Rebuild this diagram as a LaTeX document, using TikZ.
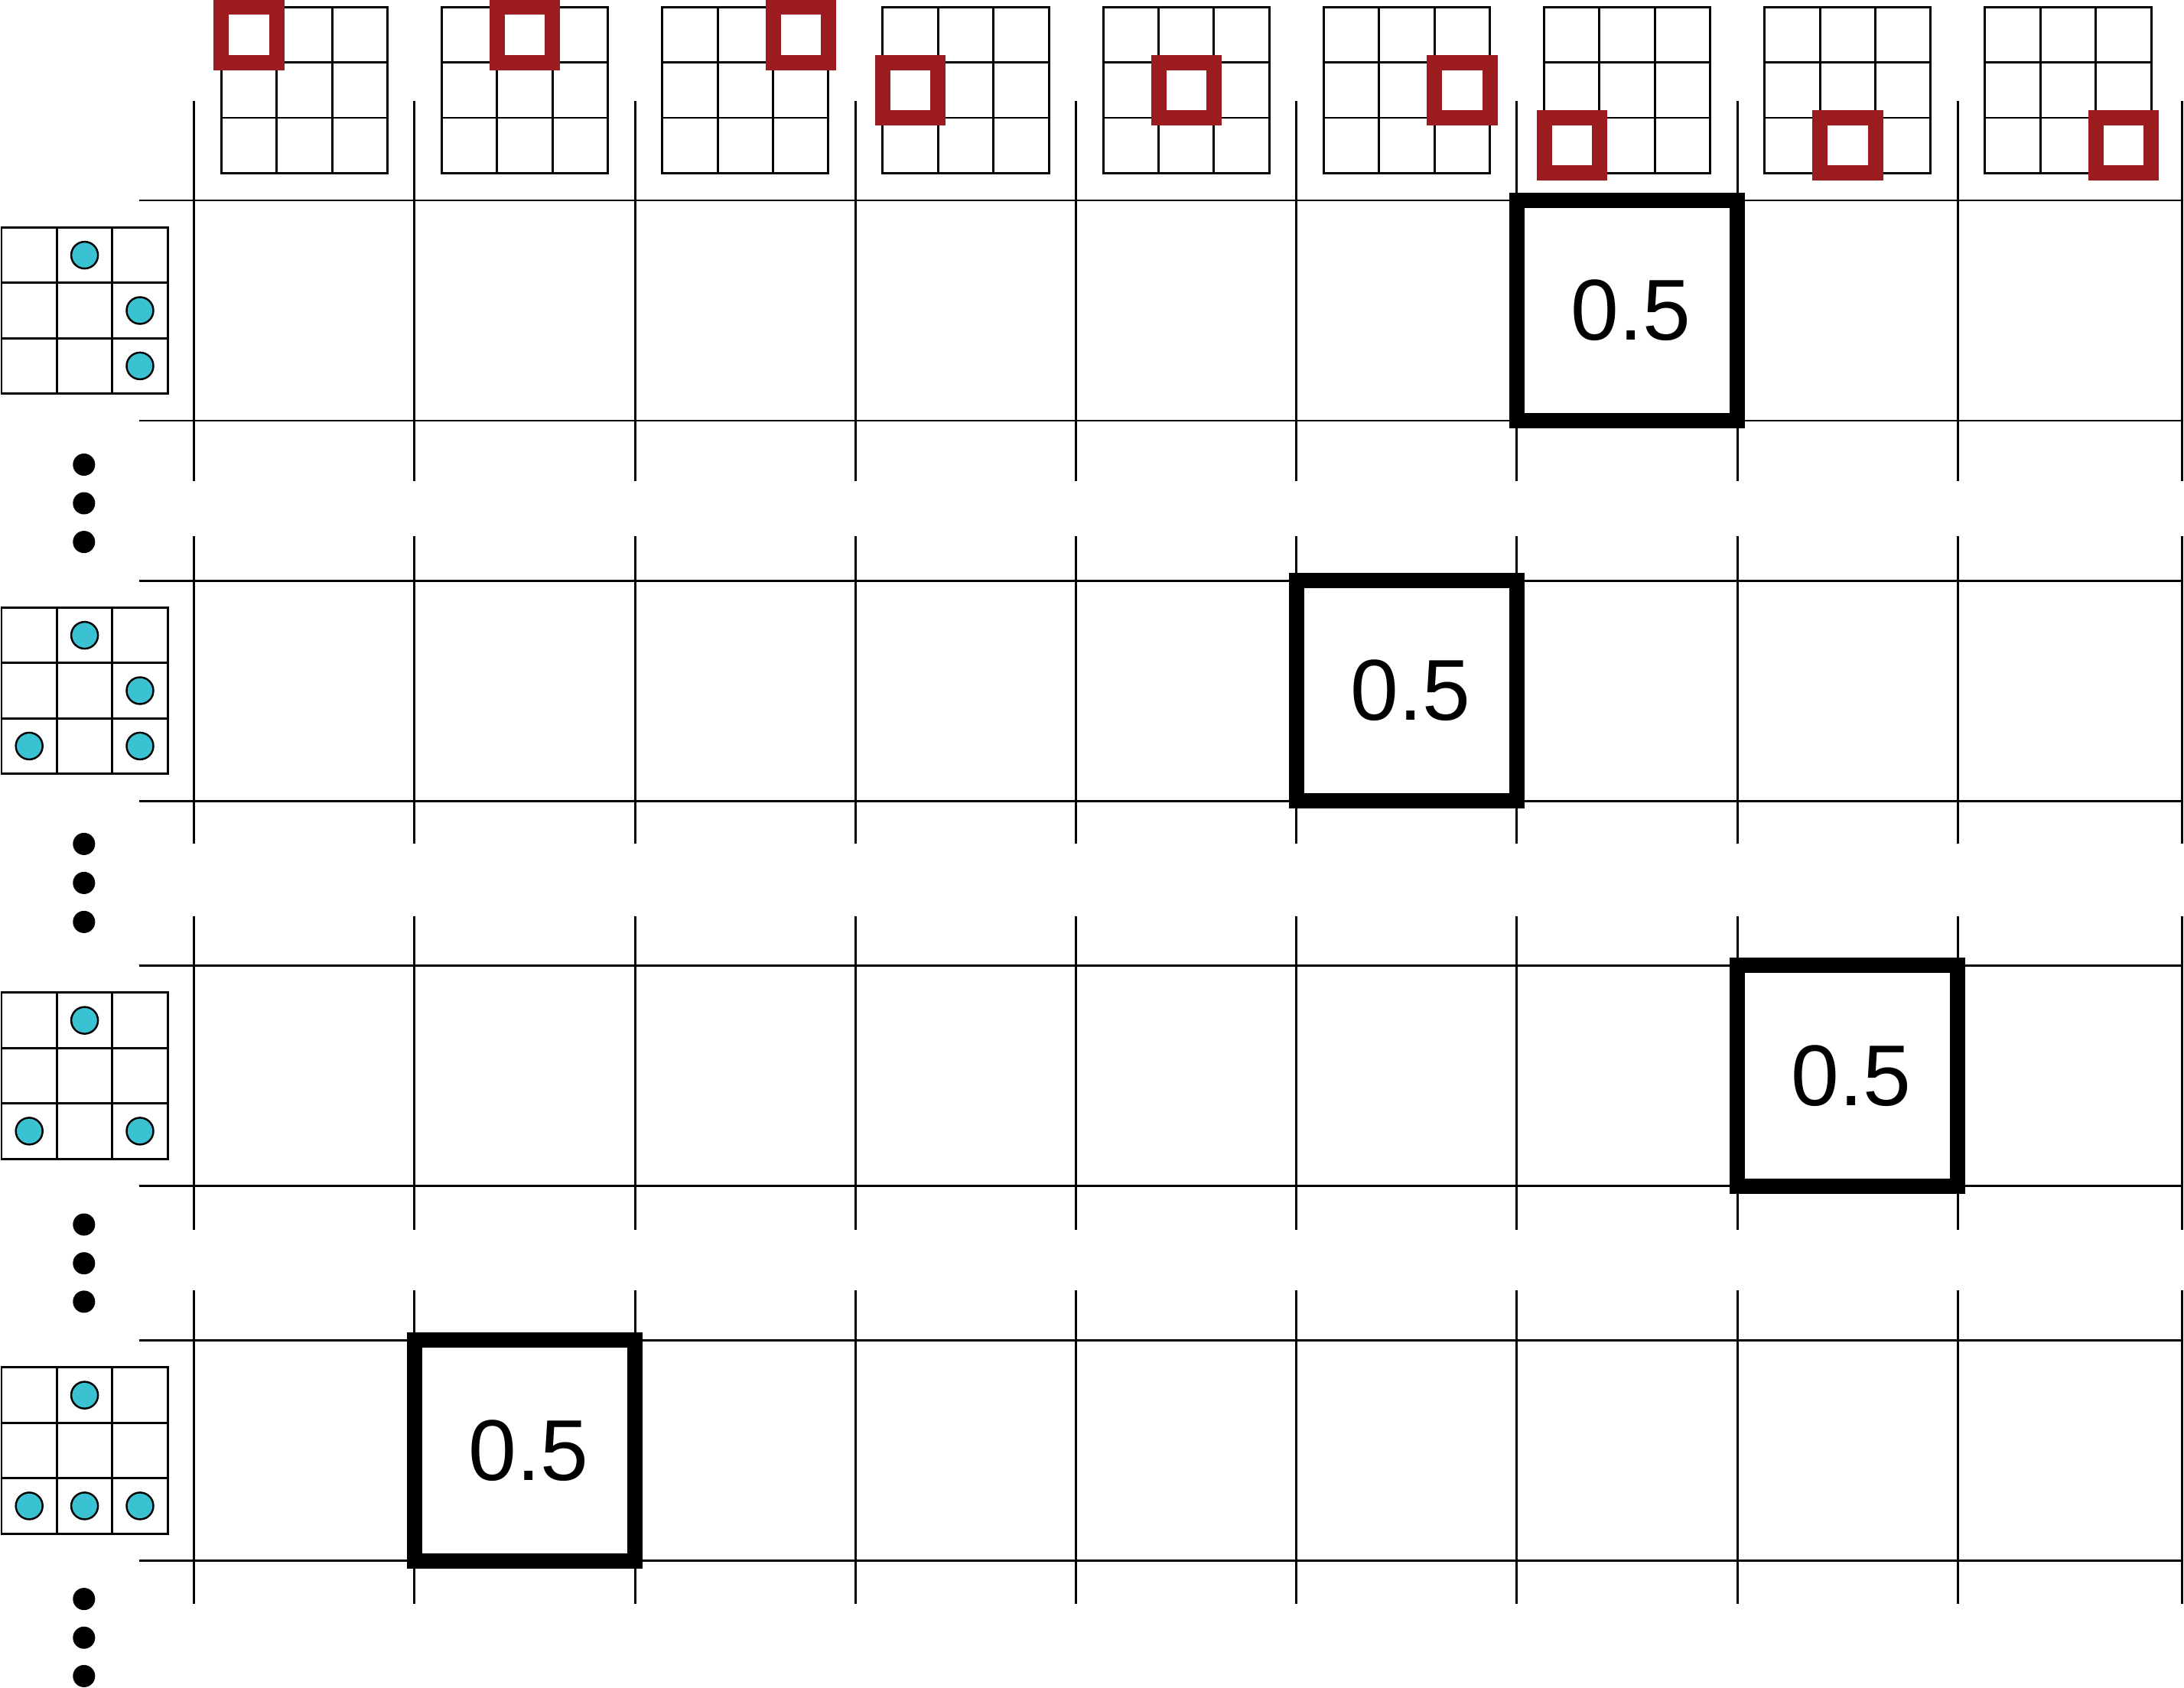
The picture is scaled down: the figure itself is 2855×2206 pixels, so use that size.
\documentclass[tikz,border=0pt]{standalone}
\usepackage{fontspec}
\setmainfont{Liberation Sans}
\definecolor{hlred}{RGB}{155,27,30}
\definecolor{dotcyan}{RGB}{58,194,210}
\begin{document}
\begin{tikzpicture}[x=0.01cm,y=-0.01cm,
  gridline/.style={draw=black,line width=0.85pt},
  hlsquare/.style={draw=hlred,line width=0.2cm,line join=miter},
  cyandot/.style={fill=dotcyan,draw=black,line width=0.7pt},
  blackdot/.style={fill=black},
  valbox/.style={draw=black,line width=0.2cm,minimum size=2.882cm,inner sep=0pt,outer sep=0pt,line join=miter},
  valtext/.style={inner sep=0pt,font=\fontsize{32.1pt}{38pt}\selectfont},
  tgrid/.pic={
    \draw[gridline] (0,0) rectangle (217.2,217.2);
    \draw[gridline] (72.4,0) -- (72.4,217.2);
    \draw[gridline] (144.8,0) -- (144.8,217.2);
    \draw[gridline] (0,72.4) -- (217.2,72.4);
    \draw[gridline] (0,144.8) -- (217.2,144.8);
  }]
\useasboundingbox (0,0) rectangle (2855,2206);
\fill[white] (0,0) rectangle (2855,2206);

% ----- matrix rows: horizontal and vertical lines
\foreach \tp/\bt/\vs/\ve [count=\r] in {262/550/132/629, 759/1047/701/1103, 1262.5/1550.5/1198/1608, 1752.5/2040.5/1687/2097} {
  \draw[gridline] (182,\tp) -- (2853,\tp);
  \draw[gridline] (182,\bt) -- (2853,\bt);
  \foreach \i in {0,...,8}
    \draw[gridline] ({253.7+288.2*\i},\vs) -- ({253.7+288.2*\i},\ve);
  \draw[gridline] (2852.5,\vs) -- (2852.5,\ve);
}

% ----- top 3x3 kernels with highlighted cell
\foreach \k in {0,...,8} {
  \pic (top\k) at ({289.3+288.2*\k},9.2) {tgrid};
  \pgfmathtruncatemacro{\rr}{int(\k/3)}
  \pgfmathtruncatemacro{\cc}{\k-3*\rr}
  \draw[hlsquare] ({289.3+288.2*\k+72.4*\cc},{9.2+72.4*\rr}) rectangle ++(72.4,72.4);
}

% ----- left 3x3 patterns
\foreach \tp [count=\r] in {297.4,794.4,1297.9,1787.9} {
  \pic (left\r) at (2,\tp) {tgrid};
}
% row 1 pattern
\foreach \rr/\cc in {0/1,1/2,2/2}
  \draw[cyandot] ({2+36.2+72.4*\cc},{297.4+36.2+72.4*\rr}) circle[radius=0.175cm];
% row 2 pattern
\foreach \rr/\cc in {0/1,1/2,2/0,2/2}
  \draw[cyandot] ({2+36.2+72.4*\cc},{794.4+36.2+72.4*\rr}) circle[radius=0.175cm];
% row 3 pattern
\foreach \rr/\cc in {0/1,2/0,2/2}
  \draw[cyandot] ({2+36.2+72.4*\cc},{1297.9+36.2+72.4*\rr}) circle[radius=0.175cm];
% row 4 pattern
\foreach \rr/\cc in {0/1,2/0,2/1,2/2}
  \draw[cyandot] ({2+36.2+72.4*\cc},{1787.9+36.2+72.4*\rr}) circle[radius=0.175cm];

% ----- vertical ellipsis dots
\foreach \yy in {607.5,658,708.6, 1103.4,1154.4,1205.4, 1601,1651.7,1701.9, 2090.6,2141.2,2191.4}
  \fill[blackdot] (109.8,\yy) circle[radius=0.145cm];

% ----- value boxes
\node[valbox] (v1) at ({253.7+288.2*6+144.1},406) {};
\node[valbox] (v2) at ({253.7+288.2*5+144.1},903) {};
\node[valbox] (v3) at ({253.7+288.2*7+144.1},1406.5) {};
\node[valbox] (v4) at ({253.7+288.2*1+144.1},1896.5) {};
\node[valtext] (t1) at ([xshift=0.05cm]v1.center) {0.5};
\node[valtext] (t2) at ([xshift=0.05cm]v2.center) {0.5};
\node[valtext] (t3) at ([xshift=0.05cm]v3.center) {0.5};
\node[valtext] (t4) at ([xshift=0.05cm]v4.center) {0.5};
\end{tikzpicture}
\end{document}
